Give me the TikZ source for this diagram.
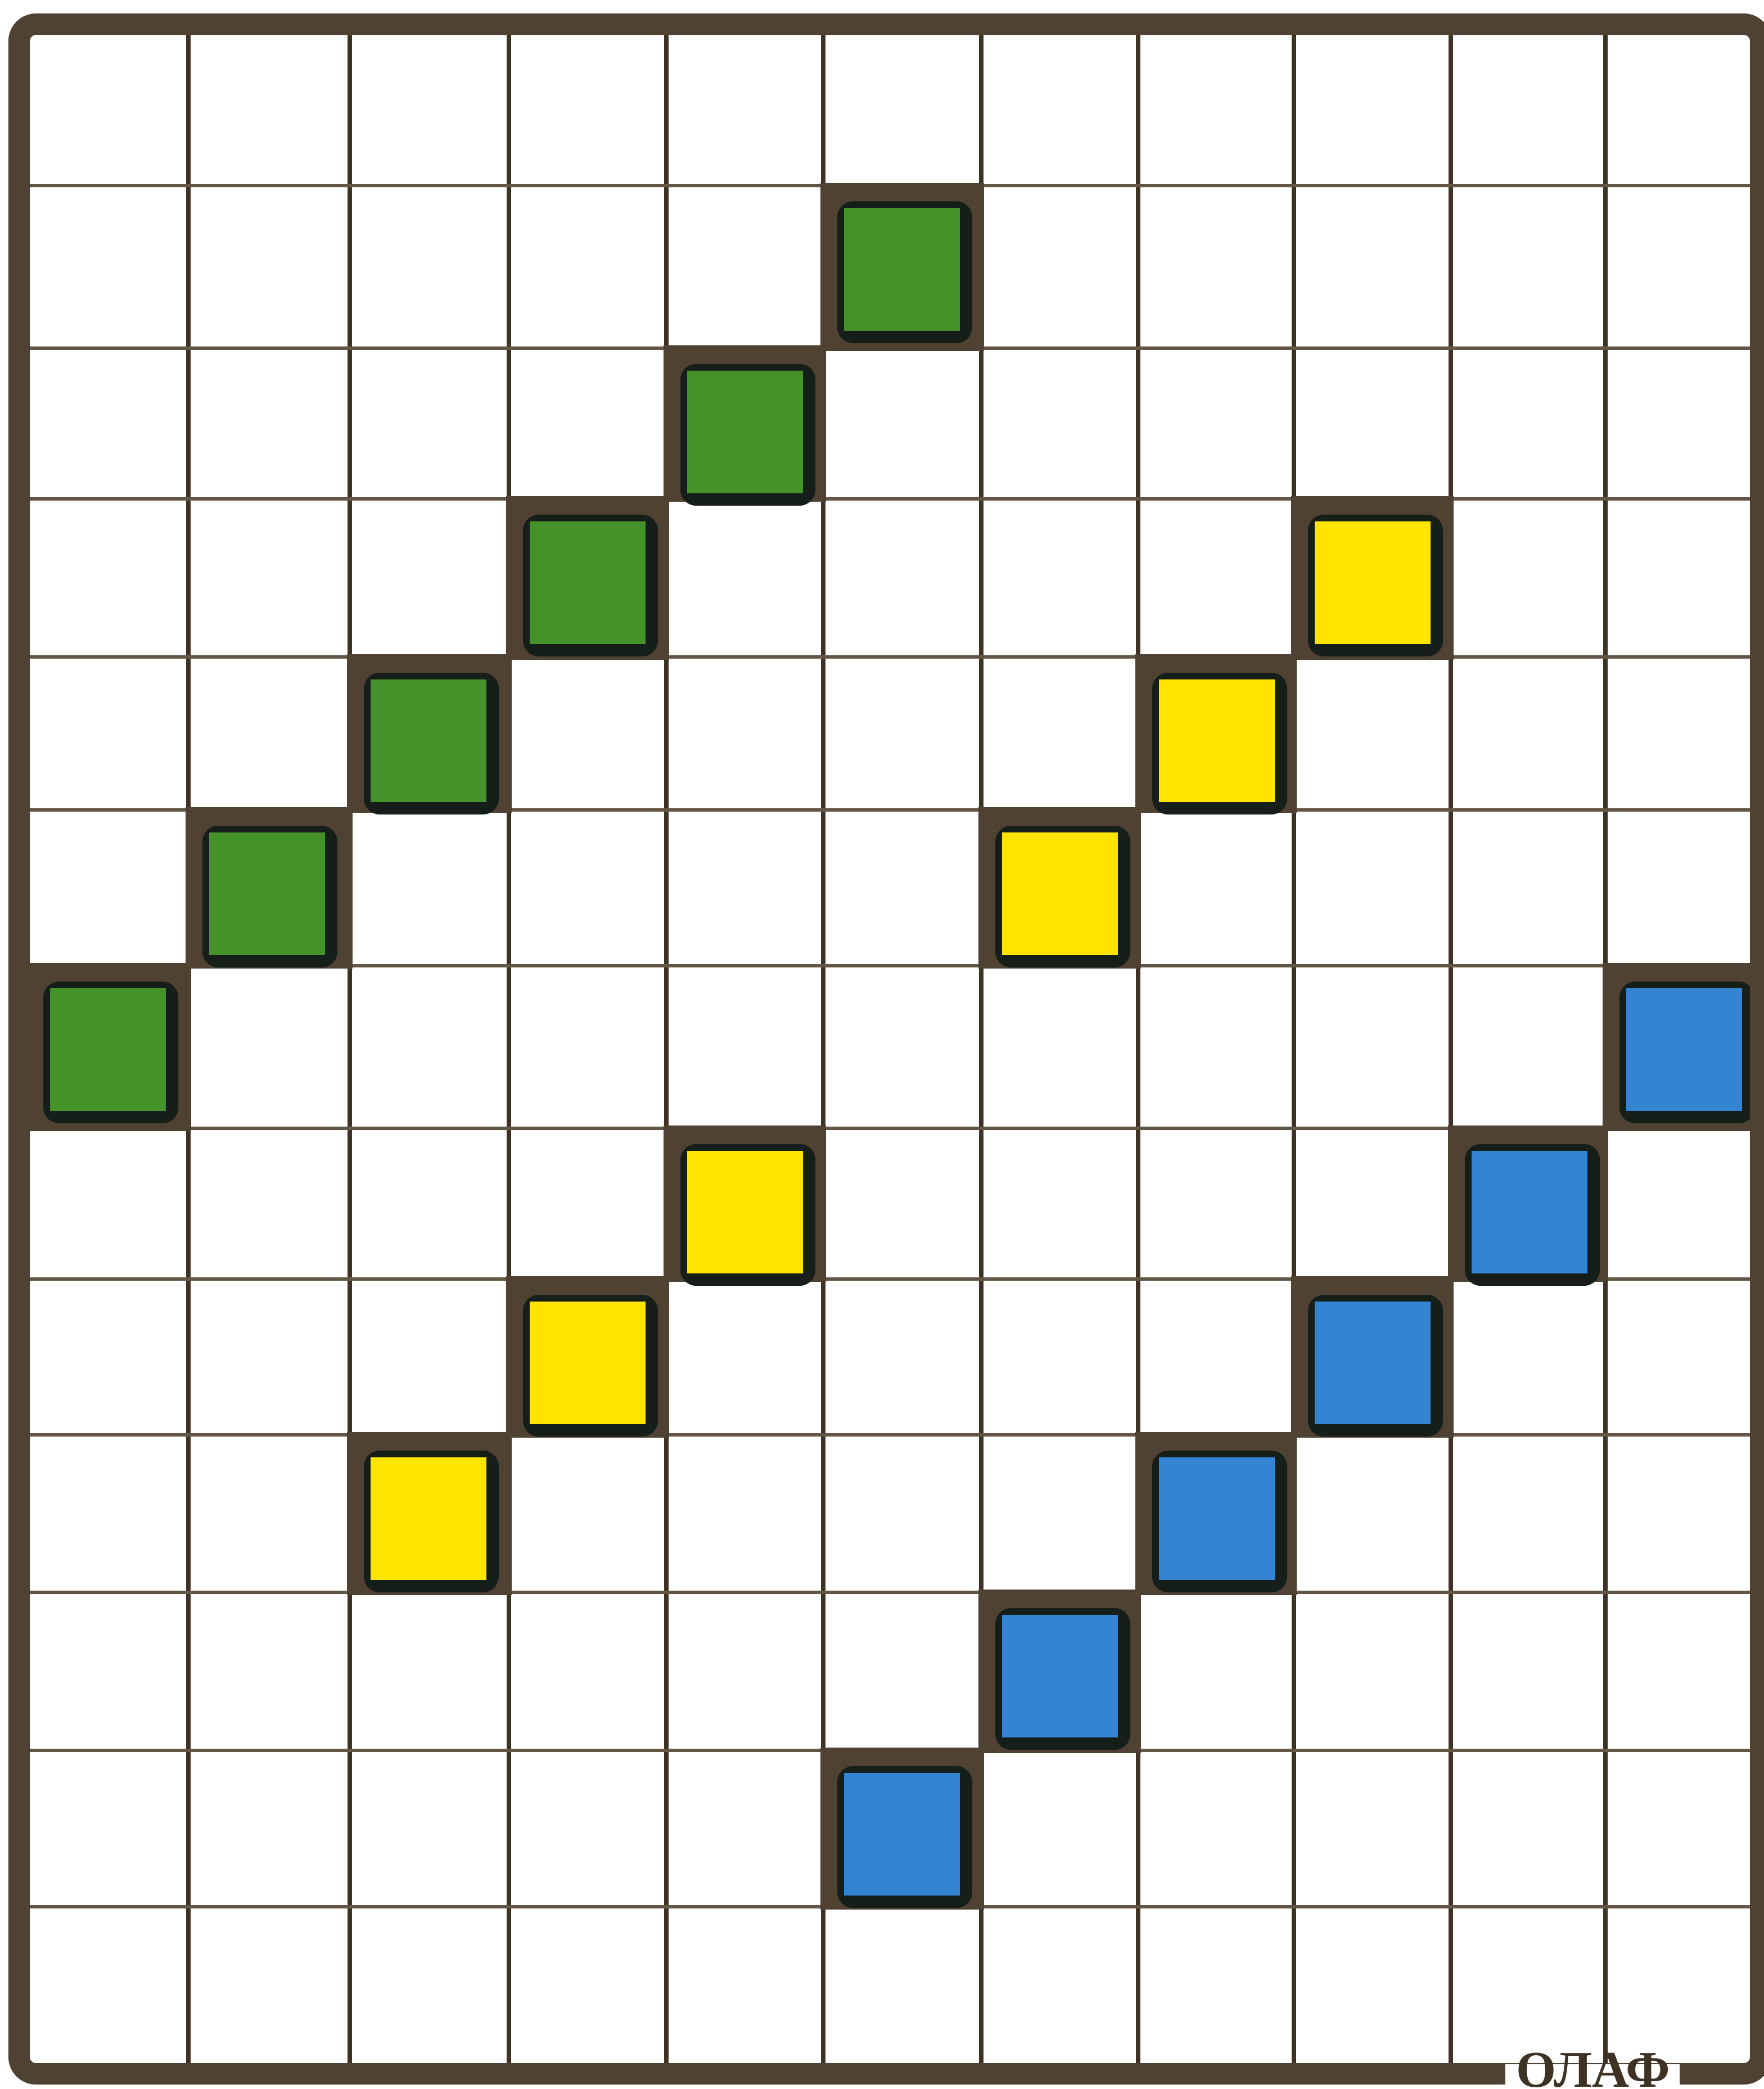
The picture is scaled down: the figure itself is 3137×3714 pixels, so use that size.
\documentclass[tikz,border=0pt]{standalone}
\usepackage{fontspec}
\setmainfont{Liberation Serif}

\definecolor{gridbrown}{RGB}{62,50,37}
\definecolor{rulebrown}{RGB}{100,86,68}
\definecolor{framebrown}{RGB}{80,66,50}
\definecolor{shadowdark}{RGB}{22,30,26}
\definecolor{leafgreen}{RGB}{70,146,42}
\definecolor{sunyellow}{RGB}{255,228,0}
\definecolor{skyblue}{RGB}{52,132,212}

\begin{document}
\begin{tikzpicture}[x=0.01cm,y=-0.01cm]
    \useasboundingbox (0,0) rectangle (3137,3714);
    \fill[white] (0,0) rectangle (3137,3714);

    % Column and row edges
    \def\colx{{52,335,622,905,1185,1464,1745,2024,2301,2580,2855,3112}}
    \def\rowy{{62,330,619,887,1168,1440,1717,2006,2274,2551,2831,3112,3390,3668}}

    % Grid
    \foreach \x in {335,622,905,1185,1464,1745,2024,2301,2580,2855}
        \draw[gridbrown, line width=2.3pt] (\x,62) -- (\x,3668);
    \foreach \y in {330,619,887,1168,1440,1717,2006,2274,2551,2831,3112,3390}
        \draw[rulebrown, line width=1.8pt] (52,\y) -- (3112,\y);

    % Tiles: column/row/colour
    \foreach \c/\r/\tone in {5/1/leafgreen, 4/2/leafgreen, 3/3/leafgreen, 2/4/leafgreen, 1/5/leafgreen, 0/6/leafgreen,
                             8/3/sunyellow, 7/4/sunyellow, 6/5/sunyellow, 4/7/sunyellow, 3/8/sunyellow, 2/9/sunyellow,
                             10/6/skyblue, 9/7/skyblue, 8/8/skyblue, 7/9/skyblue, 6/10/skyblue, 5/11/skyblue} {
        \pgfmathsetmacro{\xa}{\colx[\c]}
        \pgfmathsetmacro{\xb}{\colx[\c+1]}
        \pgfmathsetmacro{\ya}{\rowy[\r]}
        \pgfmathsetmacro{\yb}{\rowy[\r+1]}
        \fill[framebrown] (\xa-5,\ya-5) rectangle (\xb+5,\yb+5);
        \fill[shadowdark, rounded corners=0.28cm] (\xa+25,\ya+28) rectangle (\xa+265,\ya+280);
        \fill[\tone] (\xa+37,\ya+40) rectangle (\xa+243,\ya+258);
    }

    % Frame
    \draw[framebrown, line width=0.38cm, rounded corners=0.3cm] (34,43) rectangle (3131,3687);

    % Signature
    \fill[white] (2677,3670) rectangle (2987,3714);
    \node[anchor=base west, inner sep=0, text=gridbrown, font=\bfseries\fontsize{26}{30}\selectfont] (signature) at (2696,3710) {ОЛАФ};
\end{tikzpicture}
\end{document}
